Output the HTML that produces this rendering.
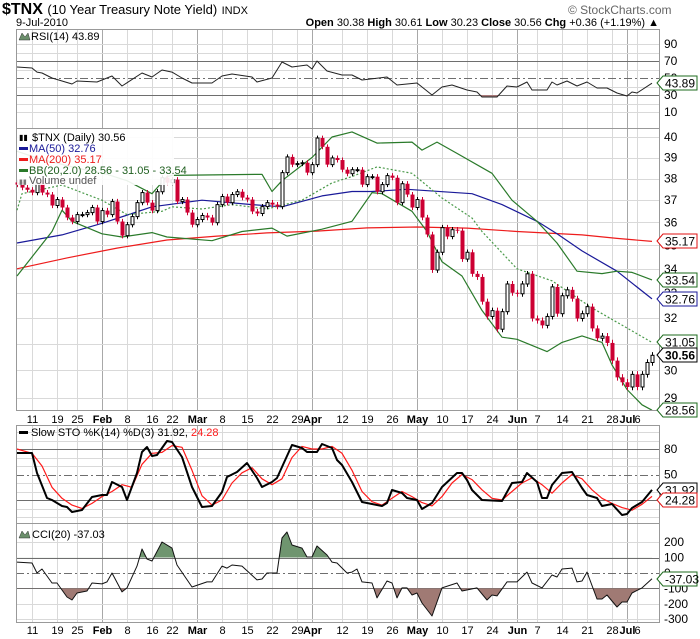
<!DOCTYPE html>
<html><head><meta charset="utf-8">
<style>
html,body{margin:0;padding:0;background:#fff;}
svg{display:block;font-family:"Liberation Sans",sans-serif;}
</style></head>
<body>
<svg id="chart" width="700" height="639" viewBox="0 0 700 639" xmlns="http://www.w3.org/2000/svg">
  <rect x="0" y="0" width="700" height="639" fill="#fff"/>
  <text x="2" y="14" font-size="16" font-weight="bold" fill="#000">$TNX <tspan font-size="13" font-weight="normal">(10 Year Treasury Note Yield)</tspan> <tspan font-size="11" font-weight="normal">INDX</tspan></text>
  <text x="16" y="26" font-size="11" fill="#000">9-Jul-2010</text>
  <text x="568" y="14" font-size="12" fill="#666">© StockCharts.com</text>
  <text x="659" y="26" font-size="11" text-anchor="end" fill="#000"><tspan font-weight="bold">Open</tspan> 30.38 <tspan font-weight="bold">High</tspan> 30.61 <tspan font-weight="bold">Low</tspan> 30.23 <tspan font-weight="bold">Close</tspan> 30.56 <tspan font-weight="bold">Chg</tspan> +0.36 (+1.19%) ▲</text>
  <g id="grid"></g>
  <g id="marks"></g>
  <g id="labels"></g>
</svg>
<script>
// ---------- DATA ----------
const closes = [37.72,37.58,37.48,37.35,37.81,37.35,37.26,36.76,37.03,36.67,
36.22,36.04,36.35,36.35,36.44,36.67,36.04,36.53,36.35,36.94,
36.04,35.42,35.90,36.26,36.89,37.35,36.89,36.53,37.39,38.04,
37.81,37.95,36.94,37.03,36.44,35.90,36.13,36.31,36.22,35.99,
36.80,37.17,36.89,37.26,37.39,37.12,37.03,36.49,36.40,36.71,
36.89,36.80,36.71,38.28,39.03,38.66,38.71,38.75,38.28,38.66,
39.95,39.52,38.66,38.98,38.88,38.42,38.23,38.42,38.42,37.72,
38.09,38.09,37.39,37.72,38.14,38.04,
36.89,37.76,37.26,36.67,37.03,36.22,35.47,
33.95,34.70,35.77,35.38,35.68,35.64,34.41,34.70,33.79,33.66,
32.65,32.06,32.29,31.56,32.25,33.37,33.01,32.97,33.37,33.79,
31.98,31.90,31.71,32.06,33.25,32.17,32.89,33.13,32.77,31.98,
32.17,32.45,31.59,31.21,31.29,31.03,30.36,29.74,29.56,29.39,
29.85,29.39,29.85,30.29,30.56];

const ma50Idx = [0,9,17,23,27,37,47,53,61,67,71,78,91,97,104,108,113,120,127];
const ma50Val = [35.1,35.45,35.96,36.4,36.7,37.0,36.8,36.7,37.2,37.4,37.4,37.5,37.3,36.8,36.05,35.5,34.76,33.9,32.76];

const ma200Idx = [0,10,20,30,40,50,60,70,80,90,100,113,120,127];
const ma200Val = [34.0,34.46,34.88,35.23,35.4,35.54,35.62,35.76,35.8,35.75,35.6,35.45,35.3,35.17];

const bbUpIdx = [0,5,12,18,22,27,30,31,49,51,53,59,63,67,72,79,81,84,88,95,99,104,108,112,117,120,123,127];
const bbUpVal = [39.3,38.9,38.5,38.2,37.9,37.3,38.1,38.15,38.2,37.4,37.9,39.0,40.0,40.25,39.7,39.75,39.36,39.75,39.2,38.25,37.0,36.05,35.1,33.9,33.8,33.9,33.85,33.54];

const bbMidIdx = [0,1,9,17,22,29,31,37,43,50,57,63,67,72,79,85,91,93,100,107,115,127];
const bbMidVal = [36.55,37.3,37.7,37.0,36.35,36.5,36.7,36.6,36.8,36.6,37.0,37.8,38.1,38.55,38.25,37.1,36.2,35.6,34.0,33.5,32.4,31.05];

const bbLowIdx = [0,7,9,11,17,21,27,30,39,45,51,54,61,67,71,73,79,82,85,89,93,97,100,106,109,113,117,119,122,125,127];
const bbLowVal = [33.7,35.6,36.55,36.05,35.5,35.36,35.55,35.36,35.2,35.6,35.75,35.4,35.7,36.05,37.35,37.3,36.5,35.6,34.3,33.7,32.3,31.25,31.17,30.7,31.05,31.3,31.05,30.2,29.3,28.75,28.56];

const rsiIdx = [0,3,4,5,7,11,12,16,19,21,25,27,29,31,33,35,39,41,43,47,48,51,53,55,58,59,60,62,65,67,69,74,76,80,83,85,87,90,92,93,96,98,100,102,103,106,107,108,110,112,114,116,118,120,122,123,124,127];
const rsiVal = [62.9,61.8,57,55.9,50,42.9,46.5,45.3,52.4,40.6,55.9,51.2,59.4,57,50,44.1,44.1,52.4,54.7,51.2,45.3,50,68.8,62.9,65.3,60.6,70,58.2,53.5,53.5,47.6,51.2,41.8,44.1,30,39.4,41.8,35.9,33.5,27.6,27.6,40.6,39.4,45.3,35.9,35.9,45.3,41.8,46.5,40.6,45.3,38.2,38.2,32.4,28.8,33.5,32.4,43.89];

const stoKIdx = [0,2,3,4,6,7,9,10,11,13,15,17,18,19,21,22,24,25,26,27,28,30,31,33,35,37,39,41,42,44,46,48,49,51,52,55,57,58,60,61,63,64,65,67,69,73,74,75,77,78,80,81,83,85,88,89,90,91,93,97,99,101,102,104,105,106,107,109,111,113,114,116,117,119,121,122,123,125,127];
const stoKVal = [75.3,75.3,75.3,51.8,22.4,20,12.9,11.8,5.9,8.2,23.5,25.9,25.9,41.2,35.3,20,51.8,76.5,82.4,71.8,72.9,89.4,88.2,70.6,35.3,11.8,12.9,29.4,47.1,52.9,63.5,45.9,35.3,41.2,45.9,84.7,81.2,76.5,76.5,85.9,81.2,67.1,61.2,41.2,17.6,12.9,16.5,31.8,28.2,22.4,20,9.4,16.5,35.3,51.8,51.8,43.5,31.8,20,18.8,40,41.2,51.8,41.2,22.4,22.4,37.6,51.8,52.9,34.1,25.9,22.4,12.9,15.3,2.4,3.5,10.6,17.6,31.92];

const stoDIdx = [0,3,5,7,9,11,13,15,17,19,21,23,25,27,29,31,33,35,37,39,41,43,45,47,49,51,53,55,57,59,61,63,65,67,69,71,73,75,77,79,81,83,85,87,89,91,93,95,97,99,101,103,105,107,109,111,113,115,117,119,121,123,125,127];
const stoDVal = [80,75,60,35,22,14,10,16,24,30,38,35,62,75,76,84,82,55,25,14,20,40,52,58,45,38,45,70,83,80,80,83,75,55,30,18,14,22,30,24,17,13,24,40,50,44,32,22,20,30,40,46,38,28,40,50,45,32,22,16,11,8,15,24.28];

const cciIdx = [0,3,4,5,7,8,10,11,12,14,15,17,18,19,21,22,24,25,26,27,29,31,32,35,38,39,41,42,43,45,48,49,50,52,53,54,55,57,58,59,60,62,63,64,66,67,68,69,71,72,74,75,76,77,78,79,80,81,83,85,88,89,92,94,95,96,98,100,102,103,105,107,108,109,111,112,113,114,116,117,118,120,121,122,123,125,127];
const cciVal = [71,65,0,26,-65,-65,-156,-175,-130,-117,-65,-71,-58,0,-123,-97,45,156,91,78,201,162,52,-91,-58,-58,45,32,52,45,-45,-39,0,0,227,266,182,162,104,104,175,117,71,65,0,6,26,-58,-65,-162,-52,-65,-162,-97,-97,-143,-130,-195,-279,-97,-65,-117,-97,-175,-143,-149,-58,-58,6,-65,-97,-13,-26,26,32,-58,-52,6,-169,-169,-143,-221,-188,-188,-130,-97,-37.03];

const xTickIdx = [3,8,12,17,22,27,31,36,41,46,51,56,59,65,70,75,80,85,90,95,100,104,109,114,119,122,124];
const xTickLbl = ["11","19","25","Feb","8","16","22","Mar","8","15","22","29","Apr","12","19","26","May","10","17","24","Jun","7","14","21","28","Jul","6"];
const monthTicks = ["Feb","Mar","Apr","May","Jun","Jul"];

const priceTicks = [29,30,31,32,33,34,35,36,37,38,39,40];
const rsiTicks = [90,70,50,30,10];
const stoTicks = [80,50,20];
const cciTicks = [200,100,0,-100,-200,-300];

// ---------- SCALES ----------
const X0 = 16, X1 = 659;
const P = {rsi:[29,128], main:[128,410], sto:[425,523], cci:[523,622]};
function xOf(i){ return 17 + 5*i; }
function yPrice(v){ return 137 + 811*Math.log(40/v); }
function yRsi(v){ return 112 - (v-10)*0.85; }
function ySto(v){ return 500 - (v-20)*0.85; }
function yCci(v){ return 573 - v*0.154; }

const NS = "http://www.w3.org/2000/svg";
const gGrid = document.getElementById("grid");
const gMarks = document.getElementById("marks");
const gLabels = document.getElementById("labels");
function mk(tag, attrs, parent){
  const e = document.createElementNS(NS, tag);
  for (const k in attrs) e.setAttribute(k, attrs[k]);
  parent.appendChild(e);
  return e;
}

// clip paths
const defs = mk("defs", {}, document.getElementById("chart"));
for (const k in P){
  const cp = mk("clipPath", {id:"clip-"+k}, defs);
  mk("rect", {x:X0, y:P[k][0], width:X1-X0, height:P[k][1]-P[k][0]}, cp);
}
function clipRect(id, x, y, w, h){
  const cp = mk("clipPath", {id:id}, defs);
  mk("rect", {x:x, y:y, width:w, height:h}, cp);
}
clipRect("clip-cci-up", X0, P.cci[0], X1-X0, yCci(100)-P.cci[0]);
clipRect("clip-cci-dn", X0, yCci(-100), X1-X0, P.cci[1]-yCci(-100));
clipRect("clip-rsi-dn", X0, yRsi(30), X1-X0, P.rsi[1]-yRsi(30));

// ---------- GRID ----------
function hline(y, cls, name){
  let st = {stroke:"#d9d9d9", "stroke-width":1};
  if (cls === "dark") st = {stroke:"#6e6e6e", "stroke-width":1};
  if (cls === "dash") st = {stroke:"#6e6e6e", "stroke-width":1, "stroke-dasharray":"8,3,2,3"};
  const l = mk("line", Object.assign({x1:X0, x2:X1, y1:Math.round(y)+0.5, y2:Math.round(y)+0.5}, st), gGrid);
  
  
}
for (const k in P){
  for (let t = 0; t < xTickIdx.length; t++){
    const isM = monthTicks.includes(xTickLbl[t]);
    const x = xOf(xTickIdx[t]) + 0.5;
    const l = mk("line", {x1:x, x2:x, y1:P[k][0], y2:P[k][1], stroke: isM ? "#a8a8a8" : "#d9d9d9", "stroke-width":1}, gGrid);
    
    
  }
}
for (let v = 10; v <= 90; v += 10){
  hline(yRsi(v), (v===70||v===30) ? "dark" : (v===50 ? "dash" : "light"), "rsi-gridline");
}
for (let v = 29; v <= 40; v++) hline(yPrice(v), "light", "price-gridline");
for (let v = 0; v <= 100; v += 10){
  hline(ySto(v), (v===80||v===20) ? "dark" : (v===50 ? "dash" : "light"), "sto-gridline");
}
for (let v = -300; v <= 200; v += 100){
  hline(yCci(v), (v===100||v===-100) ? "dark" : (v===0 ? "dash" : "light"), "cci-gridline");
}
// panel frames
for (const k in P){
  const r = mk("rect", {x:X0+0.5, y:P[k][0]+0.5, width:X1-X0, height:P[k][1]-P[k][0], fill:"none", stroke:"#999", "stroke-width":1}, gGrid);
  
  
}

// ---------- SERIES HELPERS ----------
function pts(idx, vals, yf){
  return idx.map((i, j) => xOf(i).toFixed(1) + "," + yf(vals[j]).toFixed(1)).join(" ");
}
function line(idx, vals, yf, color, width, dash, clip, name){
  const a = {points:pts(idx, vals, yf), fill:"none", stroke:color, "stroke-width":width, "clip-path":"url(#clip-"+clip+")", "stroke-linejoin":"round"};
  if (dash) a["stroke-dasharray"] = dash;
  const p = mk("polyline", a, gMarks);
  
  
  return p;
}
function area(idx, vals, yf, base, color, clip, name){
  const pp = pts(idx, vals, yf) + " " + xOf(idx[idx.length-1]) + "," + base + " " + xOf(idx[0]) + "," + base;
  const p = mk("polygon", {points:pp, fill:color, stroke:"none", "clip-path":"url(#"+clip+")"}, gMarks);
  
  
}

// RSI
area(rsiIdx, rsiVal, yRsi, yRsi(30), "#a87a7a", "clip-rsi-dn", "rsi-oversold-fill");
line(rsiIdx, rsiVal, yRsi, "#222", 1, null, "rsi", "rsi-line");

// Main: MAs and BBs
line(ma200Idx, ma200Val, yPrice, "#ee1c1c", 1.2, null, "main", "ma200-line");
line(ma50Idx, ma50Val, yPrice, "#1a1a99", 1.2, null, "main", "ma50-line");
line(bbUpIdx, bbUpVal, yPrice, "#2a7a2a", 1.2, null, "main", "bb-upper-line");
line(bbLowIdx, bbLowVal, yPrice, "#2a7a2a", 1.2, null, "main", "bb-lower-line");
line(bbMidIdx, bbMidVal, yPrice, "#4a9a4a", 1.2, "2,2", "main", "bb-middle-line");

// Candles
for (let i = 0; i < closes.length; i++){
  const c = closes[i];
  const o = i === 0 ? c + 0.1 : closes[i-1];
  const hi = Math.max(o, c) + 0.12, lo = Math.min(o, c) - 0.12;
  const x = xOf(i);
  const w = mk("line", {x1:x+0.5, x2:x+0.5, y1:yPrice(hi), y2:yPrice(lo), stroke: c < o ? "#cc0033" : "#000", "stroke-width":1}, gMarks);
  
  
  const yT = yPrice(Math.max(o, c)), yB = yPrice(Math.min(o, c));
  const h = Math.max(1, yB - yT);
  let b;
  if (c < o){
    b = mk("rect", {x:x-1.5, y:yT, width:4, height:h, fill:"#cc0033"}, gMarks);
  } else {
    b = mk("rect", {x:x-1, y:yT, width:3, height:h, fill:"#fff", stroke:"#000", "stroke-width":1}, gMarks);
  }
  
  
}

// STO
line(stoDIdx, stoDVal, ySto, "#ff1a1a", 1.2, null, "sto", "sto-d-line");
line(stoKIdx, stoKVal, ySto, "#000", 2, null, "sto", "sto-k-line");

// CCI
area(cciIdx, cciVal, yCci, yCci(100), "#6f956f", "clip-cci-up", "cci-positive-fill");
area(cciIdx, cciVal, yCci, yCci(-100), "#a07a74", "clip-cci-dn", "cci-negative-fill");
line(cciIdx, cciVal, yCci, "#111", 1, null, "cci", "cci-line");

// ---------- AXIS LABELS ----------
function txt(x, y, s, attrs, name){
  const t = mk("text", Object.assign({x:x, y:y, "font-size":12, fill:"#000"}, attrs || {}), gLabels);
  t.textContent = s;
  
  
  return t;
}
for (const v of rsiTicks) txt(664, yRsi(v)+4, String(v), {}, "rsi-axis-label");
for (const v of priceTicks) txt(664, yPrice(v)+4, String(v), {}, "price-axis-label");
for (const v of stoTicks) txt(664, ySto(v)+4, String(v), {}, "sto-axis-label");
for (const v of cciTicks) txt(664, yCci(v)+4, String(v), {}, "cci-axis-label");
for (let t = 0; t < xTickIdx.length; t++){
  const isM = monthTicks.includes(xTickLbl[t]);
  const a = {"text-anchor":"middle", "font-size":11};
  if (isM) a["font-weight"] = "bold";
  txt(xOf(xTickIdx[t])+0.5, 423, xTickLbl[t], a, "x-axis-label-top");
  txt(xOf(xTickIdx[t])+0.5, 634, xTickLbl[t], Object.assign({}, a), "x-axis-label-bottom");
}

// value tags
function tag(y, s, color, bold, name){
  const yy = Math.round(y);
  const g = mk("g", {}, gLabels);
  
  
  mk("polygon", {points:`657,${yy} 663,${yy-7} 697,${yy-7} 697,${yy+7} 663,${yy+7}`, fill:"#fff", stroke:color, "stroke-width":1}, g);
  const t = mk("text", {x:665, y:yy+4.5, "font-size":12, fill:"#000"}, g);
  if (bold) t.setAttribute("font-weight", "bold");
  t.textContent = s;
}
tag(yRsi(43.89), "43.89", "#1e6b1e", false, "rsi-value-tag");
tag(yPrice(35.17), "35.17", "#e01010", false, "ma200-value-tag");
tag(yPrice(33.54), "33.54", "#1e6b1e", false, "bb-upper-value-tag");
tag(yPrice(32.76), "32.76", "#1a1a99", false, "ma50-value-tag");
tag(yPrice(31.05), "31.05", "#1e6b1e", false, "bb-middle-value-tag");
tag(yPrice(30.56), "30.56", "#000", true, "close-value-tag");
tag(yPrice(28.56), "28.56", "#1e6b1e", false, "bb-lower-value-tag");
tag(ySto(31.92), "31.92", "#000", false, "sto-k-value-tag");
tag(ySto(24.28)+4, "24.28", "#e01010", false, "sto-d-value-tag");
tag(yCci(-37.03), "-37.03", "#1e6b1e", false, "cci-value-tag");

// ---------- LEGENDS ----------
function legendLine(x, y, color, name){
  const r = mk("rect", {x:x, y:y-5, width:9, height:3, fill:color}, gLabels);
  
  
}
// RSI legend
const ri = mk("polygon", {points:"19,40 22,33 25,37 28,33 30,40", fill:"#6b8f6b", stroke:"#333", "stroke-width":0.5}, gLabels);


txt(31, 40, "RSI(14) 43.89", {"font-size":11}, "rsi-legend");
// Main legend
const lb = mk("rect", {x:17, y:129, width:157, height:56, fill:"#fff", opacity:0.9}, gLabels);


txt(19, 140, "▮▮", {"font-size":8, fill:"#000"}, "price-legend-icon");
txt(32, 141, "$TNX (Daily) 30.56", {"font-size":11}, "price-legend");
legendLine(19, 152, "#1a1a99", "ma50-legend-swatch");
txt(29, 152, "MA(50) 32.76", {"font-size":11, fill:"#1a1a99"}, "ma50-legend");
legendLine(19, 163, "#ee1c1c", "ma200-legend-swatch");
txt(29, 163, "MA(200) 35.17", {"font-size":11, fill:"#ee1c1c"}, "ma200-legend");
legendLine(19, 174, "#2a7a2a", "bb-legend-swatch");
txt(29, 174, "BB(20,2.0) 28.56 - 31.05 - 33.54", {"font-size":11, fill:"#1e5e1e"}, "bb-legend");
txt(19, 184, "▮▮", {"font-size":7, fill:"#777"}, "volume-legend-icon");
txt(29, 184, "Volume undef", {"font-size":11, fill:"#555"}, "volume-legend");
// STO legend
legendLine(19, 436, "#000", "sto-legend-swatch");
const st = txt(31, 436, "Slow STO %K(14) %D(3) 31.92, ", {"font-size":11}, "sto-legend");
const sp = document.createElementNS(NS, "tspan");
sp.setAttribute("fill", "#ff1a1a");
sp.textContent = "24.28";
st.appendChild(sp);
// CCI legend
const ci = mk("polygon", {points:"19,538 22,531 25,535 28,531 30,538", fill:"#6b8f6b", stroke:"#333", "stroke-width":0.5}, gLabels);


txt(32, 538, "CCI(20) -37.03", {"font-size":11}, "cci-legend");
</script>
</body></html>
